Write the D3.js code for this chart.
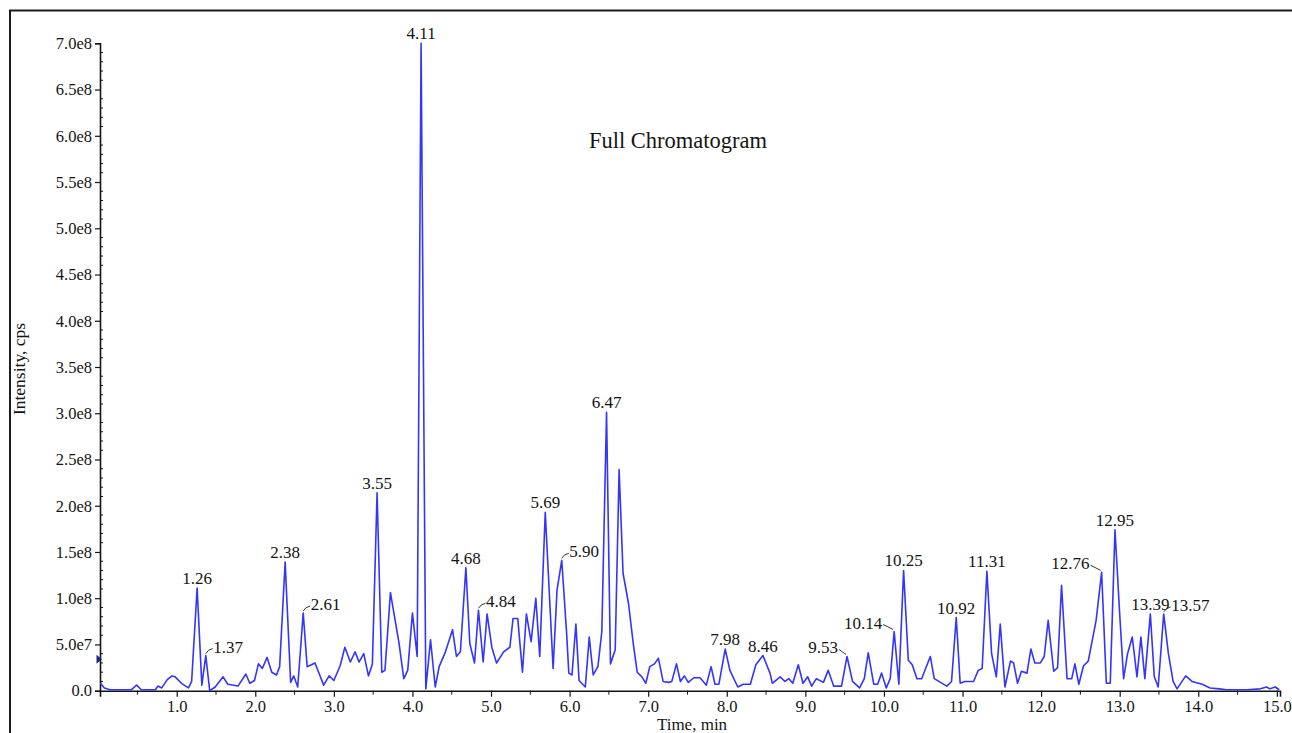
<!DOCTYPE html>
<html>
<head>
<meta charset="utf-8">
<script src="https://cdn.jsdelivr.net/npm/d3@7"></script>
<style>
  body { margin: 0; background: #fff; }
  svg { display: block; font-family: 'Liberation Serif', 'Times New Roman', serif; }
</style>
</head>
<body>
<script>
// retention time (min)
const times = [
  0.03, 0.08, 0.15, 0.25, 0.35, 0.42, 0.49, 0.55, 0.65, 0.73, 0.76, 0.81, 0.88, 0.94, 0.98,
  1.06, 1.15, 1.19, 1.26, 1.32, 1.37, 1.42, 1.49, 1.59, 1.65, 1.78, 1.88, 1.93, 1.99,
  2.04, 2.09, 2.15, 2.21, 2.27, 2.31, 2.38, 2.45, 2.49, 2.54, 2.61, 2.66, 2.76, 2.87, 2.94,
  3.00, 3.08, 3.14, 3.21, 3.27, 3.32, 3.38, 3.44, 3.49, 3.55, 3.61, 3.65, 3.72, 3.78, 3.83, 3.89, 3.94,
  4.00, 4.06, 4.11, 4.17, 4.23, 4.29, 4.34, 4.42, 4.51, 4.56, 4.61, 4.68, 4.73, 4.79, 4.84, 4.90, 4.95,
  5.01, 5.07, 5.16, 5.24, 5.28, 5.34, 5.40, 5.45, 5.51, 5.57, 5.62, 5.69, 5.79, 5.84, 5.90, 5.96, 5.99,
  6.03, 6.08, 6.12, 6.20, 6.25, 6.30, 6.36, 6.41, 6.47, 6.52, 6.58, 6.63, 6.68, 6.75, 6.81, 6.86, 6.92, 6.97,
  7.02, 7.08, 7.13, 7.19, 7.26, 7.30, 7.36, 7.41, 7.46, 7.51, 7.58, 7.66, 7.74, 7.80, 7.85, 7.90, 7.98,
  8.04, 8.14, 8.21, 8.30, 8.37, 8.46, 8.55, 8.58, 8.68, 8.74, 8.79, 8.84, 8.91, 8.97,
  9.03, 9.08, 9.14, 9.23, 9.29, 9.36, 9.46, 9.53, 9.60, 9.69, 9.75, 9.80, 9.87, 9.92, 9.97,
  10.03, 10.08, 10.13, 10.19, 10.25, 10.31, 10.36, 10.42, 10.48, 10.59, 10.64, 10.72, 10.80, 10.86, 10.92, 10.97,
  11.03, 11.14, 11.20, 11.25, 11.31, 11.37, 11.43, 11.48, 11.54, 11.61, 11.65, 11.70, 11.75, 11.82, 11.87, 11.92, 11.99,
  12.04, 12.09, 12.16, 12.21, 12.26, 12.33, 12.39, 12.43, 12.48, 12.54, 12.60, 12.70, 12.77, 12.83, 12.88, 12.94,
  13.00, 13.05, 13.10, 13.16, 13.22, 13.27, 13.32, 13.39, 13.44, 13.49, 13.56, 13.62, 13.68, 13.73, 13.84, 13.92,
  14.05, 14.15, 14.27, 14.36, 14.62, 14.79, 14.87, 14.91, 14.98, 15.03
]

// intensity, in units of 1e8 cps
const intensityE8 = [
  0.08, 0.03, 0.01, 0.01, 0.01, 0.01, 0.06, 0.01, 0.01, 0.01, 0.05, 0.03, 0.12, 0.16, 0.15,
  0.08, 0.03, 0.10, 1.11, 0.06, 0.38, 0.00, 0.04, 0.15, 0.07, 0.05, 0.18, 0.08, 0.11,
  0.29, 0.24, 0.36, 0.20, 0.17, 0.26, 1.39, 0.09, 0.16, 0.04, 0.84, 0.26, 0.30, 0.06, 0.16,
  0.11, 0.27, 0.47, 0.31, 0.42, 0.31, 0.40, 0.16, 0.29, 2.14, 0.20, 0.22, 1.06, 0.76, 0.51, 0.13, 0.22,
  0.84, 0.37, 7.00, 0.02, 0.55, 0.04, 0.26, 0.42, 0.66, 0.37, 0.42, 1.33, 0.51, 0.30, 0.87, 0.31, 0.83,
  0.47, 0.30, 0.42, 0.47, 0.78, 0.78, 0.20, 0.83, 0.53, 1.00, 0.37, 1.93, 0.24, 1.09, 1.41, 0.65, 0.19,
  0.17, 0.72, 0.11, 0.04, 0.58, 0.17, 0.26, 0.64, 3.01, 0.29, 0.44, 2.39, 1.27, 0.94, 0.51, 0.20, 0.15, 0.08,
  0.26, 0.29, 0.35, 0.10, 0.09, 0.10, 0.29, 0.10, 0.16, 0.09, 0.14, 0.14, 0.06, 0.26, 0.07, 0.07, 0.45,
  0.22, 0.04, 0.07, 0.07, 0.28, 0.38, 0.19, 0.08, 0.15, 0.10, 0.13, 0.08, 0.28, 0.08,
  0.15, 0.05, 0.13, 0.09, 0.22, 0.05, 0.05, 0.37, 0.10, 0.03, 0.13, 0.41, 0.07, 0.07, 0.19,
  0.03, 0.13, 0.64, 0.07, 1.30, 0.33, 0.28, 0.13, 0.13, 0.37, 0.13, 0.09, 0.05, 0.10, 0.79, 0.08,
  0.10, 0.10, 0.22, 0.24, 1.29, 0.40, 0.15, 0.72, 0.04, 0.32, 0.30, 0.08, 0.21, 0.19, 0.45, 0.30, 0.30,
  0.37, 0.76, 0.21, 0.25, 1.14, 0.13, 0.13, 0.29, 0.07, 0.27, 0.32, 0.76, 1.28, 0.08, 0.08, 1.74,
  0.83, 0.13, 0.40, 0.58, 0.15, 0.58, 0.13, 0.83, 0.15, 0.04, 0.83, 0.40, 0.10, 0.02, 0.16, 0.10,
  0.07, 0.03, 0.02, 0.01, 0.01, 0.02, 0.04, 0.02, 0.04, 0.01
]

// annotated peaks and where the label sits
const peakTimes = [1.26, 1.37, 2.38, 2.61, 3.55, 4.11, 4.68, 4.84, 5.69, 5.90, 6.47, 7.98, 8.46,
  9.53, 10.14, 10.25, 10.92, 11.31, 12.76, 12.95, 13.39, 13.57]
const peakSide = ['top', 'right', 'top', 'right', 'top', 'top', 'top', 'right', 'top', 'right', 'top', 'top', 'top',
  'left', 'left', 'top', 'top', 'top', 'left', 'top', 'top', 'right']

const xTicks = [1, 2, 3, 4, 5, 6, 7, 8, 9, 10, 11, 12, 13, 14, 15]
const yTicks = [0, 0.5, 1, 1.5, 2, 2.5, 3, 3.5, 4, 4.5, 5, 5.5, 6, 6.5, 7]
const yTickLabels = ['0.0', '5.0e7', '1.0e8', '1.5e8', '2.0e8', '2.5e8', '3.0e8', '3.5e8', '4.0e8',
  '4.5e8', '5.0e8', '5.5e8', '6.0e8', '6.5e8', '7.0e8']

const width = 1292
const height = 733
const lineColor = '#3434ff'
const inkColor = '#141414'

const points = times.map((t, i) => ({ t, v: intensityE8[i] }))

const svg = d3.select('body')
  .append('svg')
  .attr('width', width)
  .attr('height', height)

// outer frame (right and bottom edges fall outside the picture)
svg.append('path')
  .attr('d', `M10,${height + 5} L10,10.5 L${width + 5},10.5`)
  .attr('fill', 'none')
  .attr('stroke', '#1c1c1c')
  .attr('stroke-width', 2)

const x = d3.scaleLinear().domain([0.024, 15.04]).range([100, 1280])
const y = d3.scaleLinear().domain([0, 7]).range([690.7, 43.3])

// y axis
const yAxis = svg.append('g').attr('transform', 'translate(100,0)')
yAxis.call(d3.axisLeft(y).tickValues(yTicks).tickSize(5).tickPadding(3)
  .tickFormat((d, i) => yTickLabels[i]))
yAxis.append('g')
  .selectAll('line')
  .data(d3.range(0, 7.001, 0.1).filter(v => Math.abs(v * 2 - Math.round(v * 2)) > 0.01))
  .join('line')
  .attr('x1', 0)
  .attr('x2', 3)
  .attr('y1', d => y(d))
  .attr('y2', d => y(d))
  .attr('stroke', inkColor)

// x axis
const xAxis = svg.append('g').attr('transform', `translate(0,${y(0)})`)
xAxis.call(d3.axisBottom(x).tickValues(xTicks).tickSize(6).tickPadding(4)
  .tickFormat(d => d.toFixed(1)))
xAxis.append('g')
  .selectAll('line')
  .data(d3.range(0.5, 15, 1))
  .join('line')
  .attr('x1', d => x(d))
  .attr('x2', d => x(d))
  .attr('y1', 0)
  .attr('y2', 4)
  .attr('stroke', inkColor)

svg.selectAll('.domain').attr('stroke', inkColor).attr('stroke-width', 1.6)
svg.selectAll('.tick line').attr('stroke', inkColor).attr('stroke-width', 1.2)
svg.selectAll('.tick text')
  .attr('fill', inkColor)
  .style('font-family', "'Liberation Serif', serif")
  .style('font-size', '16.5px')

// small marker on the y axis
svg.append('path')
  .attr('d', `M96.5,${y(0.34) - 4.5} L102,${y(0.34)} L96.5,${y(0.34) + 4.5} Z`)
  .attr('fill', '#22228a')

// trace
svg.append('path')
  .datum(points)
  .attr('fill', 'none')
  .attr('stroke', lineColor)
  .attr('stroke-width', 1.6)
  .attr('stroke-linejoin', 'round')
  .attr('d', d3.line().x(d => x(d.t)).y(d => y(d.v)))

// peak labels
const peaks = peakTimes.map((t, i) => {
  const idx = d3.leastIndex(times, tt => Math.abs(tt - t))
  return { label: t.toFixed(2), px: x(times[idx]), py: y(intensityE8[idx]), side: peakSide[i] }
})

const labels = svg.append('g')
  .style('font-size', '17px')
  .attr('fill', inkColor)

peaks.forEach(p => {
  if (p.side === 'top') {
    labels.append('text')
      .attr('x', p.px)
      .attr('y', p.py - 4)
      .attr('text-anchor', 'middle')
      .text(p.label)
  } else if (p.side === 'right') {
    labels.append('path')
      .attr('d', `M${p.px},${p.py - 2} Q${p.px + 2},${p.py - 6} ${p.px + 7},${p.py - 7}`)
      .attr('fill', 'none')
      .attr('stroke', '#333')
      .attr('stroke-width', 1)
    labels.append('text')
      .attr('x', p.px + 7.5)
      .attr('y', p.py - 3)
      .text(p.label)
  } else {
    const gap = p.label.length > 4 ? 12 : 9
    labels.append('path')
      .attr('d', `M${p.px - gap + 1},${p.py - 7} L${p.px - 1},${p.py - 2}`)
      .attr('fill', 'none')
      .attr('stroke', '#333')
      .attr('stroke-width', 1)
    labels.append('text')
      .attr('x', p.px - gap)
      .attr('y', p.py - 3)
      .attr('text-anchor', 'end')
      .text(p.label)
  }
})

// titles
svg.append('text')
  .attr('x', 678)
  .attr('y', 148)
  .attr('text-anchor', 'middle')
  .attr('fill', inkColor)
  .style('font-size', '22.5px')
  .text('Full Chromatogram')

svg.append('text')
  .attr('x', 692)
  .attr('y', 730)
  .attr('text-anchor', 'middle')
  .attr('fill', inkColor)
  .style('font-size', '17px')
  .text('Time, min')

svg.append('text')
  .attr('transform', 'translate(25,369) rotate(-90)')
  .attr('text-anchor', 'middle')
  .attr('fill', inkColor)
  .style('font-size', '17.5px')
  .text('Intensity, cps')
</script>
</body>
</html>
